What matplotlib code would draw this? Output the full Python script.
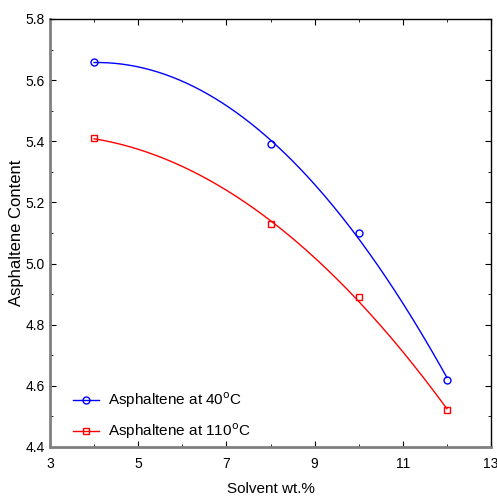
# Asphaltene icerigi - solvent orani grafigi
import numpy as np
import matplotlib.pyplot as plt
from matplotlib.ticker import MultipleLocator

# veriler
solvent = [4, 8, 10, 12]
asf_40 = [5.66, 5.39, 5.10, 4.62]
asf_110 = [5.41, 5.13, 4.89, 4.52]

plt.rcParams["font.family"] = ["Liberation Sans", "DejaVu Sans"]

fig = plt.figure(figsize=(4.97, 4.96), dpi=100)
ax = fig.add_axes([50 / 497, 1 - 447 / 496, 441 / 497, 428 / 496])

# kuadratik egri uyduruyoruz, noktalar ayrica ciziliyor
xs = np.linspace(min(solvent), max(solvent), 200)
for y, renk, mk, etiket in [
    (asf_40, "blue", "o", "Asphaltene at 40$^{\\rm o}$C"),
    (asf_110, "red", "s", "Asphaltene at 110$^{\\rm o}$C"),
]:
    k = np.polyfit(solvent, y, 2)
    ax.plot(xs, np.polyval(k, xs), color=renk, lw=1)
    ax.plot(solvent, y, mk, mfc="none", mec=renk, ms=5, mew=1)
    ax.plot([], [], color=renk, lw=1, marker=mk, mfc="none", mec=renk, ms=5, label=etiket)

ax.set_xlim(3, 13)
ax.set_ylim(4.4, 5.8)
ax.xaxis.set_major_locator(MultipleLocator(2, offset=1))
ax.xaxis.set_minor_locator(MultipleLocator(1))
ax.yaxis.set_major_locator(MultipleLocator(0.2))
ax.yaxis.set_minor_locator(MultipleLocator(0.1))
ax.yaxis.set_major_formatter(plt.FuncFormatter(lambda v, p: f"{v:.1f}"))
ax.tick_params(which="both", direction="in", top=True, right=True, labelsize=10)
ax.tick_params(axis="x", which="major", pad=7)
ax.tick_params(which="major", length=4)
ax.tick_params(which="minor", length=2)

for s in ["left", "bottom"]:
    ax.spines[s].set_color("gray")
    ax.spines[s].set_linewidth(2)
for s in ["top", "right"]:
    ax.spines[s].set_color("black")
    ax.spines[s].set_linewidth(1)

ax.set_xlabel("Solvent wt.%", fontsize=11, labelpad=8)
ax.set_ylabel("Asphaltene Content", fontsize=12, va="center")
ax.yaxis.set_label_coords(-0.077, 0.5)

ax.legend(loc="lower left", bbox_to_anchor=(0.02, -0.018), frameon=False, fontsize=11,
          handlelength=1.7, labelspacing=0.75, handletextpad=0.6)

plt.savefig("out.png", dpi=100)
